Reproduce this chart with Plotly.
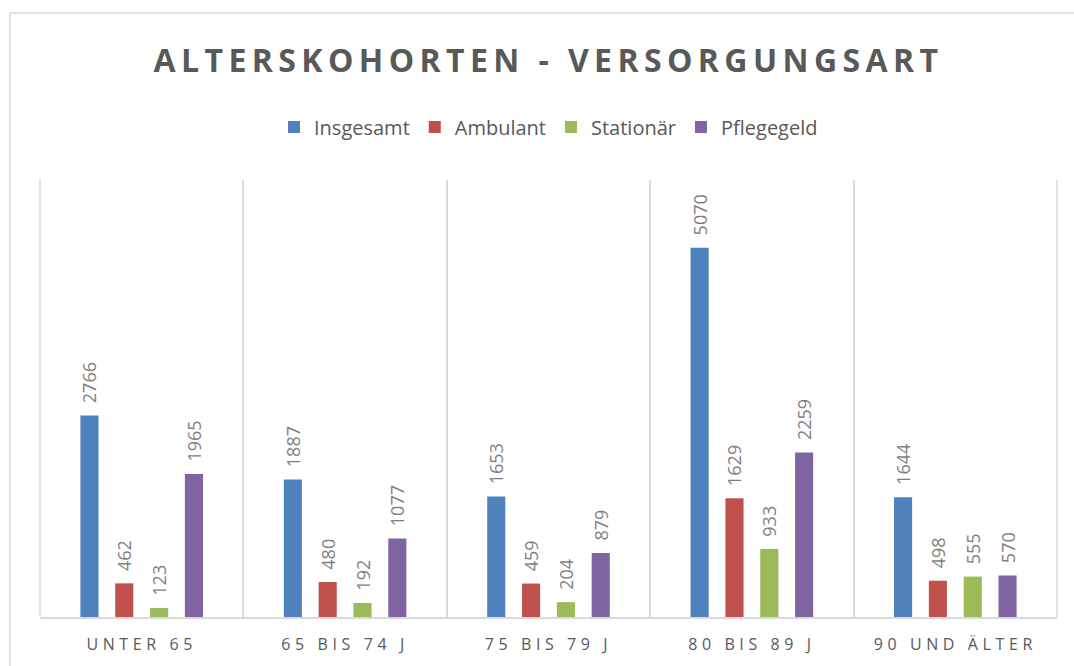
import plotly.graph_objects as go

categories = ["UNTER 65", "65 BIS 74 J", "75 BIS 79 J", "80 BIS 89 J", "90 UND ÄLTER"]
series_names = ["Insgesamt", "Ambulant", "Stationär", "Pflegegeld"]
insgesamt = [2766, 1887, 1653, 5070, 1644]
ambulant = [462, 480, 459, 1629, 498]
stationaer = [123, 192, 204, 933, 555]
pflegegeld = [1965, 1077, 879, 2259, 570]
colors = ["#4F81BD", "#C0504D", "#9BBB59", "#8064A2"]
title_text = "ALTERSKOHORTEN - VERSORGUNGSART"

FONT = "Open Sans"
W, H = 1074, 666
L, R, T, B = 40, 17, 180, 49
pw, ph = W - L - R, H - T - B

fig = go.Figure()
for name, vals, col in zip(series_names, [insgesamt, ambulant, stationaer, pflegegeld], colors):
    fig.add_trace(go.Bar(
        name=name, x=categories, y=vals, marker=dict(color=col, line=dict(width=0)),
        text=[str(v) for v in vals], texttemplate="\u00a0\u00a0%{text}",
        textposition="outside", textangle=-90,
        constraintext="none", cliponaxis=False,
        textfont=dict(family=FONT, size=18, color="#7F7F7F"),
        hoverinfo="skip",
    ))

def px_x(p):
    return (p - L) / pw

def px_y(p):
    return (H - B - p) / ph

line_style = dict(color="#D9D9D9", width=1.5)

fig.update_layout(
    width=W, height=H,
    margin=dict(l=L, r=R, t=T, b=B),
    paper_bgcolor="white", plot_bgcolor="white",
    barmode="group", bargap=0.315, bargroupgap=0.48,
    title=dict(
        text='<span style="letter-spacing:5.4px">' + title_text + '</span>',
        x=0.5, xanchor="center", xref="paper",
        y=1 - 61 / H, yanchor="middle", yref="container",
        font=dict(family=FONT, size=32, color="#595959", weight="bold"),
    ),
    legend=dict(
        orientation="h", x=0.5, xanchor="center", y=px_y(127), yanchor="middle",
        font=dict(family=FONT, size=20, color="#595959"),
        itemclick=False, itemdoubleclick=False, bgcolor="rgba(0,0,0,0)",
    ),
    xaxis=dict(
        type="category", tickson="boundaries", showgrid=True, gridcolor="#D9D9D9", gridwidth=1.5,
        showline=True, linecolor="#D9D9D9", linewidth=1.5, ticks="", zeroline=False,
        tickvals=categories,
        ticktext=['<span style="letter-spacing:4.6px">' + c + '</span>' for c in categories],
        tickfont=dict(family=FONT, size=16, color="#595959"), ticklabelstandoff=12,
        range=[-0.5, len(categories) - 0.5],
    ),
    yaxis=dict(range=[0, 6000], visible=False, showgrid=False, zeroline=False),
    shapes=[
        dict(type="line", xref="paper", yref="paper", x0=0, x1=0, y0=0, y1=1, line=line_style, layer="below"),
        dict(type="line", xref="paper", yref="paper", x0=1, x1=1, y0=0, y1=1, line=line_style, layer="below"),
        dict(type="line", xref="paper", yref="paper", x0=px_x(10), x1=px_x(10), y0=px_y(13), y1=px_y(700),
             line=line_style),
        dict(type="line", xref="paper", yref="paper", x0=px_x(10), x1=px_x(1100), y0=px_y(13), y1=px_y(13),
             line=line_style),
    ],
    showlegend=True,
)

fig.write_html("out.html", config={"displayModeBar": False},
               post_script="document.body.style.margin='0';document.body.style.overflow='hidden';")
